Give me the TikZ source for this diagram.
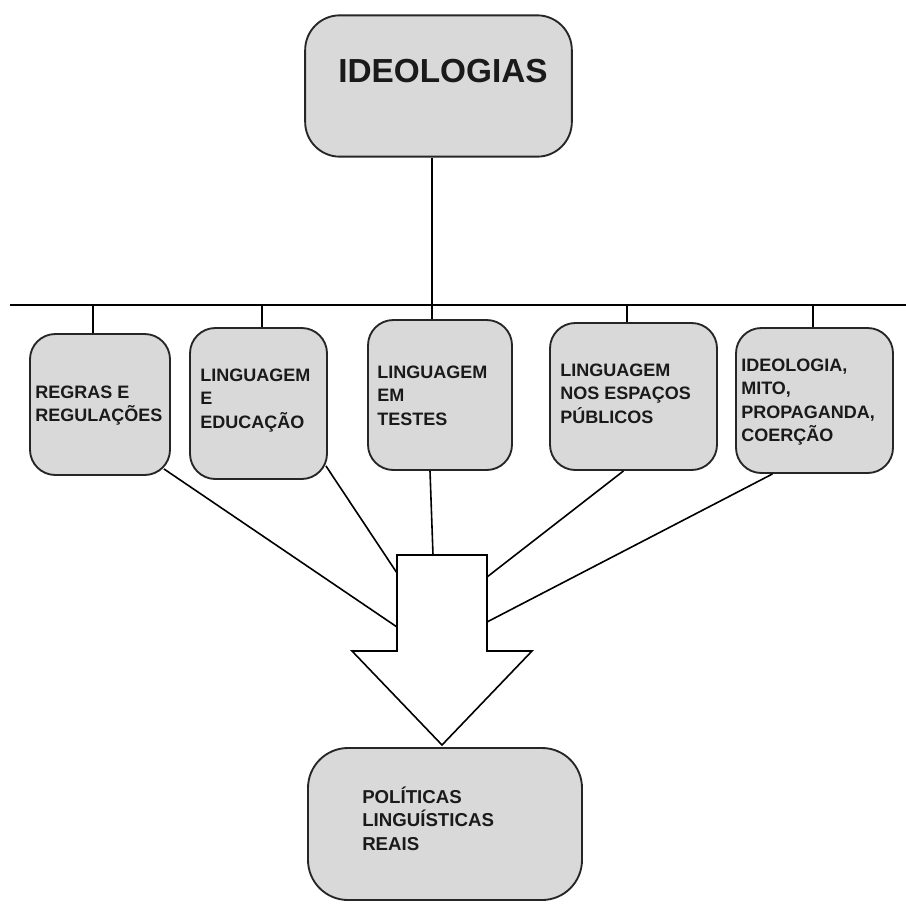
\documentclass[tikz,border=0pt]{standalone}
\usepackage{fontspec}
\setmainfont{Liberation Sans}
\usetikzlibrary{positioning,calc}
\definecolor{boxgray}{HTML}{D9D9D9}
\definecolor{inkgray}{HTML}{1A1A1A}

\begin{document}
\begin{tikzpicture}[x=0.75pt,y=-0.75pt]
  \useasboundingbox (0,0) rectangle (906,903);
  \begin{scope}[
    every node/.style={
      rectangle,
      draw=black!85,
      line width=1.4pt,
      fill=boxgray,
      rounded corners=19pt,
    },
    ]
    % Ideologias
    \node [minimum width=200pt,minimum height=106pt,rounded corners=26pt] (ideo) at (438.5,86) {};

    % b1 .. b5
    \node [minimum width=105pt,minimum height=105.75pt] (b1) at (100,404.5) {};
    \node [minimum width=102.75pt,minimum height=113.25pt] (b2) at (258.5,403.5) {};
    \node [minimum width=108pt,minimum height=112.5pt] (b3) at (440,395) {};
    \node [minimum width=125.25pt,minimum height=110.25pt] (b4) at (633.5,396.5) {};
    \node [minimum width=117.75pt,minimum height=108.75pt] (b5) at (814.5,400.5) {};

    % Politicas
    \node [minimum width=205.5pt,minimum height=114pt,rounded corners=30pt] (pol) at (445,824) {};
  \end{scope}
  \begin{scope}[
    link/.style={
      line width=1.2pt,
      draw=black,
    },
    ]
    % bus
    \coordinate (busl) at (10,305);
    \coordinate (busr) at (906,305);
    \draw [link] (busl) -- (busr);
    \coordinate (t3) at (432,305);
    \draw [link] (t3 |- ideo.south) -- (t3 |- b3.north);
    \foreach \i/\x in {1/93,2/262,4/627,5/813} {
      \coordinate (t\i) at (\x,305);
      \draw [link] (t\i) -- (t\i |- b\i.north);
    }

    % feeders
    \coordinate (in1) at (397,627);
    \coordinate (in2) at (397,573);
    \coordinate (in3) at (433,555);
    \coordinate (in4) at (487,577);
    \coordinate (in5) at (487,622);
    \draw [link] ($(b1.south east)+(-7,-7)$) -- (in1);
    \draw [link] ($(b2.south east)+(-2,-14)$) -- (in2);
    \draw [link] ($(b3.south)+(-10,0)$) -- (in3);
    \draw [link] ($(b4.south)+(-10,0)$) -- (in4);
    \draw [link] ($(b5.south)+(-42,0)$) -- (in5);

    % big arrow
    \coordinate (arrowtl) at (397,555);
    \coordinate (arrowtr) at (487,555);
    \coordinate (arrowtip) at (442,745);
    \draw [link,fill=white,line join=miter]
      (arrowtl) -- (arrowtr) -- (arrowtr |- 0,651) -- (532,651)
      -- (arrowtip) -- (352,651) -- (arrowtl |- 0,651) -- cycle;
  \end{scope}
  \begin{scope}[
    % base = baseline of the last line
    every node/.style={
      anchor=base west,
      align=left,
      inner sep=0pt,
      text=inkgray,
      font=\bfseries\fontsize{13.5}{17.5}\selectfont,
    },
    ]
    \node [font=\bfseries\fontsize{25}{30}\selectfont] (ideotxt) at (338,82) {IDEOLOGIAS};
    \node (b1txt) at (35,421.8) {REGRAS E\\REGULAÇÕES};
    \node (b2txt) at (200,428.2) {LINGUAGEM\\E\\EDUCAÇÃO};
    \node (b3txt) at (377,425.2) {LINGUAGEM\\EM\\TESTES};
    \node (b4txt) at (560,423.2) {LINGUAGEM\\NOS ESPAÇOS\\PÚBLICOS};
    \node (b5txt) at (741,441.5) {IDEOLOGIA,\\MITO,\\PROPAGANDA,\\COERÇÃO};
    \node [font=\bfseries\fontsize{14}{17.5}\selectfont] (poltxt) at (362,850.2) {POLÍTICAS\\LINGUÍSTICAS\\REAIS};
  \end{scope}
\end{tikzpicture}
\end{document}
